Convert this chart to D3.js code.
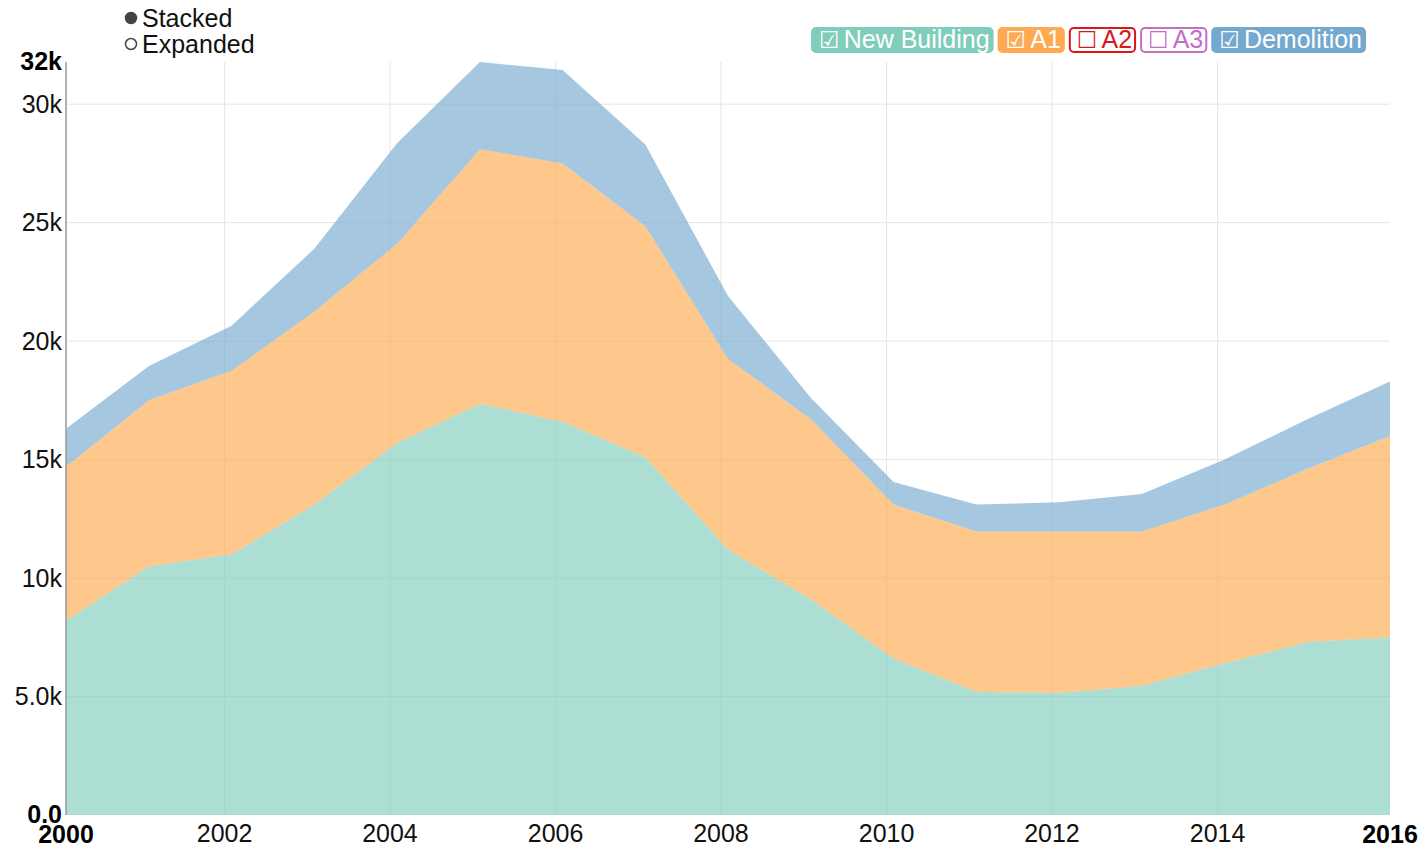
<!DOCTYPE html>
<html>
<head>
<meta charset="utf-8">
<script src="https://cdn.jsdelivr.net/npm/d3@7"></script>
<style>
  body { margin: 0; background: #fff; }
  text { font-family: "Liberation Sans", Arial, sans-serif; }
</style>
</head>
<body>
<svg id="plot" width="1424" height="848"></svg>
<script>
// data (one point per year)
var years = [2000, 2001, 2002, 2003, 2004, 2005, 2006, 2007, 2008, 2009, 2010, 2011, 2012, 2013, 2014, 2015, 2016];
var newBuilding = [8200, 10500, 11000, 13100, 15700, 17350, 16600, 15100, 11200, 9100, 6600, 5200, 5150, 5450, 6400, 7300, 7500];
var a1 = [6500, 7000, 7750, 8150, 8400, 10750, 10900, 9750, 8050, 7600, 6500, 6770, 6820, 6520, 6700, 7300, 8500];
var demolition = [1600, 1450, 1900, 2650, 4250, 3680, 3940, 3450, 2650, 900, 950, 1130, 1230, 1580, 1900, 2100, 2300];

var seriesNames = ['New Building', 'A1', 'A2', 'A3', 'Demolition'];
var seriesOn = [true, true, false, false, true];
var seriesColors = ['#7fcdbb', '#fdaa50', '#d7191c', '#c46ec4', '#74a9cf'];

var xTickYears = [2002, 2004, 2006, 2008, 2010, 2012, 2014];
var yTicks = [5000, 10000, 15000, 20000, 25000, 30000];
var modes = ['Stacked', 'Expanded'];

var svg = d3.select('#plot'),
    margin = {top: 62, right: 34, bottom: 33, left: 66},
    width = +svg.attr('width') - margin.left - margin.right,
    height = +svg.attr('height') - margin.top - margin.bottom;

// table for the stack
var table = years.map(function(yr, i) {
  return {date: new Date(yr, 1, 1), 'New Building': newBuilding[i], 'A1': a1[i], 'Demolition': demolition[i]};
});
var keys = seriesNames.filter(function(d, i) { return seriesOn[i]; });
var stacked = d3.stack().keys(keys)(table);
var maxVal = d3.max(stacked[stacked.length - 1], function(d) { return d[1]; });

var x = d3.scaleTime()
    .domain(d3.extent(table, function(d) { return d.date; }))
    .range([0, width]);
var y = d3.scaleLinear().domain([0, maxVal]).range([height, 0]);
var fmt = d3.format('.2s');

var g = svg.append('g').attr('transform', 'translate(' + margin.left + ',' + margin.top + ')');

// grid
g.selectAll('.hgrid').data(yTicks).enter().append('line')
    .attr('x1', 0).attr('x2', width)
    .attr('y1', function(d) { return y(d); }).attr('y2', function(d) { return y(d); })
    .style('stroke', '#e5e5e5');
g.selectAll('.vgrid').data(xTickYears).enter().append('line')
    .attr('x1', function(d) { return x(new Date(d, 0, 1)); })
    .attr('x2', function(d) { return x(new Date(d, 0, 1)); })
    .attr('y1', 0).attr('y2', height)
    .style('stroke', '#e5e5e5');

// areas
var area = d3.area()
    .x(function(d) { return x(d.data.date); })
    .y0(function(d) { return y(d[0]); })
    .y1(function(d) { return y(d[1]); });
g.selectAll('.layer').data(stacked).enter().append('path')
    .attr('d', area)
    .style('fill', function(d) { return seriesColors[seriesNames.indexOf(d.key)]; })
    .style('fill-opacity', 0.65);

// y axis
g.append('line').attr('x1', 0).attr('x2', 0).attr('y1', 0).attr('y2', height)
    .style('stroke', '#999').style('stroke-width', 1.5);
g.selectAll('.ylab').data(yTicks).enter().append('text')
    .attr('x', -4).attr('y', function(d) { return y(d); })
    .attr('dy', '0.35em').attr('text-anchor', 'end')
    .style('font-size', '25px').style('fill', '#111')
    .text(function(d) { return fmt(d); });
g.selectAll('.ymm').data([0, maxVal]).enter().append('text')
    .attr('x', -4).attr('y', function(d) { return y(d); })
    .attr('dy', '0.3em').attr('text-anchor', 'end')
    .style('font-size', '25px').style('font-weight', 'bold').style('fill', '#000')
    .text(function(d) { return d === 0 ? '0.0' : fmt(d); });

// x axis labels
g.selectAll('.xlab').data(xTickYears).enter().append('text')
    .attr('x', function(d) { return x(new Date(d, 0, 1)); })
    .attr('y', height + 27)
    .attr('text-anchor', 'middle')
    .style('font-size', '25px').style('fill', '#111')
    .text(function(d) { return d; });
g.selectAll('.xmm').data(x.domain()).enter().append('text')
    .attr('x', function(d) { return x(d); })
    .attr('y', height + 28)
    .attr('text-anchor', 'middle')
    .style('font-size', '25px').style('font-weight', 'bold').style('fill', '#000')
    .text(function(d) { return d.getFullYear(); });

// stacked / expanded control
var ctrl = svg.append('g').attr('transform', 'translate(131,18)');
modes.forEach(function(m, i) {
  ctrl.append('circle')
      .attr('cx', 0).attr('cy', i * 26).attr('r', 5.5)
      .style('fill', i === 0 ? '#444' : '#fff')
      .style('stroke', '#444').style('stroke-width', 1.5);
  ctrl.append('text')
      .attr('x', 11).attr('y', i * 26 + 9)
      .style('font-size', '25px').style('fill', '#111')
      .text(m);
});

// legend, laid out from the right
var leg = svg.append('g');
var right = 1365;
for (var i = seriesNames.length - 1; i >= 0; i--) {
  var item = leg.append('g');
  var box = item.append('rect');
  var t = item.append('text').attr('y', 48).style('font-size', '25px')
      .style('fill', seriesOn[i] ? '#fff' : seriesColors[i]);
  t.append('tspan').style('font-family', 'DejaVu Sans').style('font-size', '23px')
      .text(seriesOn[i] ? '\u2611' : '\u2610');
  t.append('tspan').attr('dx', 4).text(seriesNames[i]);
  var w = t.node().getComputedTextLength() + 14;
  var left = right - w;
  t.attr('x', left + 7);
  box.attr('x', left).attr('y', 28).attr('width', w).attr('height', 24).attr('rx', 4)
      .style('fill', seriesOn[i] ? seriesColors[i] : '#fff')
      .style('stroke', seriesColors[i]).style('stroke-width', 2);
  right = left - 6;
}
</script>
</body>
</html>
